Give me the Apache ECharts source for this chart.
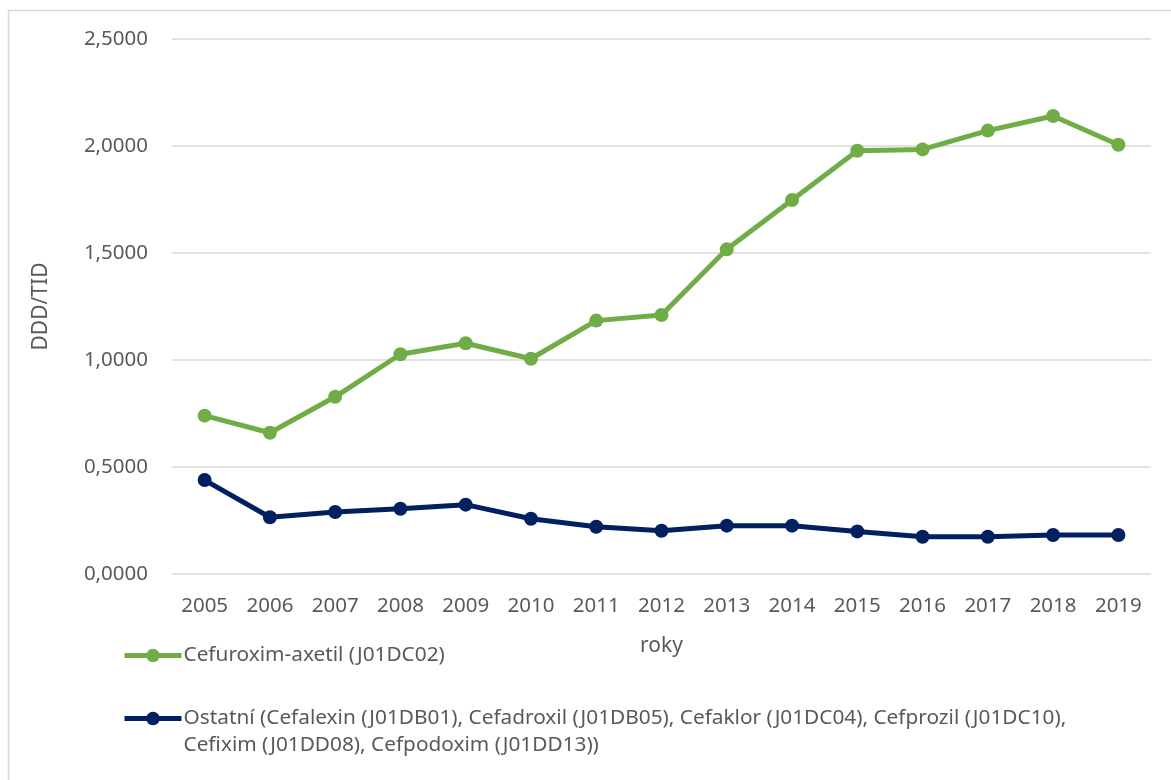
<!DOCTYPE html>
<html>
<head>
<meta charset="utf-8">
<script src="https://cdn.jsdelivr.net/npm/echarts@6/dist/echarts.min.js"></script>
<style>
  html, body { margin: 0; padding: 0; background: #fff; }
  #chart { width: 1171px; height: 780px; }
</style>
</head>
<body>
<div id="chart"></div>
<script>
// Years on the category axis
const years = ['2005', '2006', '2007', '2008', '2009', '2010', '2011', '2012',
               '2013', '2014', '2015', '2016', '2017', '2018', '2019'];

// Consumption in DDD/TID
const cefuroxim = [0.740, 0.660, 0.828, 1.027, 1.078, 1.006, 1.184, 1.210,
                   1.517, 1.748, 1.978, 1.984, 2.072, 2.140, 2.006];
const ostatni = [0.439, 0.265, 0.290, 0.305, 0.324, 0.258, 0.221, 0.202,
                 0.226, 0.226, 0.199, 0.174, 0.174, 0.182, 0.182];

const nameCefuroxim = 'Cefuroxim-axetil (J01DC02)';
const nameOstatni = 'Ostatní (Cefalexin (J01DB01), Cefadroxil (J01DB05), Cefaklor (J01DC04), Cefprozil (J01DC10), Cefixim (J01DD08), Cefpodoxim (J01DD13))';

const FONT = '"Noto Sans", sans-serif';
const TEXT = '#595959';
const GREEN = '#70AD47';
const NAVY = '#002060';

const chart = echarts.init(document.getElementById('chart'));

function lineSeries(name, data, color) {
  return {
    name: name,
    type: 'line',
    data: data,
    symbol: 'circle',
    symbolSize: 14,
    lineStyle: { color: color, width: 5 },
    itemStyle: { color: color },
    emphasis: { disabled: true },
    z: 3
  };
}

const legendBase = {
  left: 122,
  padding: 0,
  itemWidth: 57,
  itemHeight: 17,
  selectedMode: false,
  lineStyle: { width: 5 },
  textStyle: { color: TEXT, fontFamily: FONT, fontSize: 20.8, lineHeight: 27, padding: [0, 0, 0, -3] }
};

chart.setOption({
  animation: false,
  backgroundColor: '#fff',
  graphic: [{
    type: 'rect',
    shape: { x: 8.5, y: 10.5, width: 1200, height: 800 },
    style: { fill: 'none', stroke: '#D9D9D9', lineWidth: 1.5 },
    silent: true,
    z: -1
  }],
  grid: { left: 172, right: 20, top: 39, bottom: 206, containLabel: false },
  xAxis: {
    type: 'category',
    data: years,
    boundaryGap: true,
    name: 'roky',
    nameLocation: 'middle',
    nameGap: 62,
    nameTextStyle: { color: TEXT, fontFamily: FONT, fontSize: 21 },
    axisLine: { show: false },
    axisTick: { show: false },
    axisLabel: { color: TEXT, fontFamily: FONT, fontSize: 20.5, margin: 22 }
  },
  yAxis: {
    type: 'value',
    min: 0,
    max: 2.5,
    interval: 0.5,
    name: 'DDD/TID',
    nameLocation: 'middle',
    nameGap: 120,
    nameRotate: 90,
    nameTextStyle: { color: TEXT, fontFamily: FONT, fontSize: 21 },
    axisLine: { show: false },
    axisTick: { show: false },
    splitLine: { lineStyle: { color: '#D9D9D9', width: 1.5 } },
    axisLabel: {
      color: TEXT, fontFamily: FONT, fontSize: 20.5, margin: 24,
      formatter: v => v.toFixed(4).replace('.', ',')
    }
  },
  legend: [Object.assign({}, legendBase, {
    data: [nameCefuroxim],
    top: 642
  }), Object.assign({}, legendBase, {
    data: [nameOstatni],
    top: 678,
    // empty first line keeps the marker level with the first text line
    formatter: n => '\n' + n.replace(', Cefixim', ',\nCefixim')
  })],
  series: [
    lineSeries(nameCefuroxim, cefuroxim, GREEN),
    lineSeries(nameOstatni, ostatni, NAVY)
  ]
});
</script>
</body>
</html>
